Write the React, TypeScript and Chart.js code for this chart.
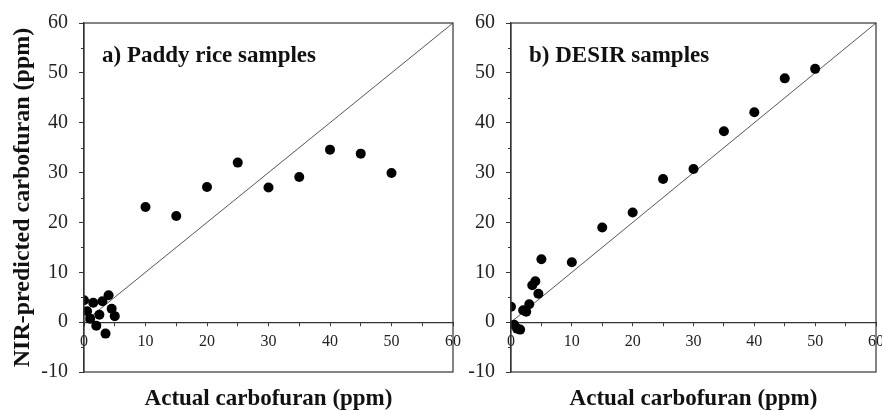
import React, { useEffect, useRef } from 'react';
import { Chart, registerables } from 'chart.js';

Chart.register(...registerables);

const FONT = '"Liberation Serif", "Times New Roman", serif';

// Panel a) Paddy rice samples
const paddyActual = [0, 0.5, 1, 1.5, 2, 2.5, 3, 3.5, 4, 4.5, 5, 10, 15, 20, 25, 30, 35, 40, 45, 50];
const paddyPredicted = [4.4, 2.2, 0.7, 3.9, -0.7, 1.5, 4.2, -2.3, 5.4, 2.7, 1.2, 23.1, 21.3, 27.1, 32.0, 27.0, 29.1, 34.6, 33.8, 29.9];

// Panel b) DESIR samples
const desirActual = [0, 0.5, 1, 1.5, 2, 2.5, 3, 3.5, 4, 4.5, 5, 10, 15, 20, 25, 30, 35, 40, 45, 50];
const desirPredicted = [3.1, -0.5, -1.3, -1.5, 2.4, 2.1, 3.6, 7.4, 8.2, 5.7, 12.6, 12.0, 19.0, 22.0, 28.7, 30.7, 38.3, 42.1, 48.9, 50.8];

// 1:1 reference line
const lineX = [0, 60];
const lineY = [0, 60];

const minorYTicks = [-5, 5, 15, 25, 35, 45, 55];

const X_TITLE = 'Actual carbofuran (ppm)';
const Y_TITLE = 'NIR-predicted carbofuran (ppm)';

function framePlugin(label: string) {
  return {
    id: 'frame_' + label.slice(0, 1),
    afterDraw(chart: any) {
      const { ctx, chartArea } = chart;
      const { left, top, right, bottom } = chartArea;
      ctx.save();
      ctx.strokeStyle = '#333';
      ctx.lineWidth = 1.2;
      ctx.strokeRect(left, top, right - left, bottom - top);
      const ys = chart.scales.y;
      ctx.beginPath();
      minorYTicks.forEach((v) => {
        const py = Math.round(ys.getPixelForValue(v)) + 0.5;
        ctx.moveTo(left - 3, py);
        ctx.lineTo(left, py);
      });
      ctx.lineWidth = 1;
      ctx.stroke();
      ctx.fillStyle = '#111';
      ctx.font = 'bold 23px ' + FONT;
      ctx.textBaseline = 'alphabetic';
      ctx.textAlign = 'left';
      ctx.fillText(label, left + 18, top + 39);
      ctx.restore();
    },
  };
}

type PanelProps = {
  left: number;
  width: number;
  xs: number[];
  ys: number[];
  label: string;
  yTitle: boolean;
  yWidth: number;
  padRight: number;
};

function Panel({ left, width, xs, ys, label, yTitle, yWidth, padRight }: PanelProps) {
  const ref = useRef<HTMLCanvasElement>(null);
  useEffect(() => {
    const chart = new Chart(ref.current as HTMLCanvasElement, {
      type: 'scatter',
      data: {
        datasets: [
          {
            data: xs.map((x, i) => ({ x, y: ys[i] })),
            backgroundColor: '#000',
            borderColor: '#000',
            pointRadius: 5,
            pointBorderWidth: 0,
            order: 0,
          },
          {
            data: lineX.map((x, i) => ({ x, y: lineY[i] })),
            showLine: true,
            borderColor: '#555',
            borderWidth: 1,
            pointRadius: 0,
            order: 1,
          } as any,
        ],
      },
      options: {
        animation: false,
        responsive: false,
        maintainAspectRatio: false,
        layout: { padding: { top: 23, right: padRight, bottom: 0, left: 0 } },
        plugins: {
          legend: { display: false },
          tooltip: { enabled: false },
          title: {
            display: true,
            position: 'bottom',
            text: X_TITLE,
            fullSize: false,
            color: '#111',
            font: { family: FONT, size: 23, weight: 'bold', lineHeight: 1 },
            padding: { top: 16, bottom: 0 },
          },
        },
        scales: {
          x: {
            type: 'linear',
            position: { y: 0 } as any,
            min: 0,
            max: 60,
            ticks: {
              stepSize: 5,
              autoSkip: false,
              maxRotation: 0,
              padding: 7,
              color: '#222',
              font: { family: FONT, size: 16 },
              callback: (v: any) => (Number(v) % 10 === 0 ? String(v) : ''),
            },
            grid: { drawOnChartArea: false, tickLength: 3, color: '#333' },
            border: { color: '#333', width: 1.2 },
            afterFit: (s: any) => {
              s.paddingLeft = 0;
              s.paddingRight = 0;
            },
          },
          y: {
            type: 'linear',
            min: -10,
            max: 60,
            ticks: {
              stepSize: 10,
              padding: 11,
              color: '#222',
              font: { family: FONT, size: 20 },
            },
            grid: { drawOnChartArea: false, tickLength: 5, color: '#333' },
            border: { color: '#333', width: 1.2 },
            title: {
              display: yTitle,
              text: Y_TITLE,
              color: '#111',
              font: { family: FONT, size: 24, weight: 'bold' },
              padding: { top: 8.6, bottom: 0 },
            },
            afterFit: (s: any) => {
              s.width = yWidth;
            },
          },
        },
      },
      plugins: [framePlugin(label)],
    });
    return () => chart.destroy();
  }, []);
  return (
    <canvas
      ref={ref}
      width={width}
      height={411}
      style={{ position: 'absolute', left, top: 0, width, height: 411 }}
    />
  );
}

export default function App() {
  return (
    <div
      style={{
        position: 'absolute',
        left: 0,
        top: 0,
        width: 882,
        height: 411,
        overflow: 'hidden',
        background: '#fff',
      }}
    >
      <Panel left={0} width={462} xs={paddyActual} ys={paddyPredicted} label="a) Paddy rice samples" yTitle={true} yWidth={84} padRight={9} />
      <Panel left={462} width={430} xs={desirActual} ys={desirPredicted} label="b) DESIR samples" yTitle={false} yWidth={49} padRight={16} />
    </div>
  );
}
